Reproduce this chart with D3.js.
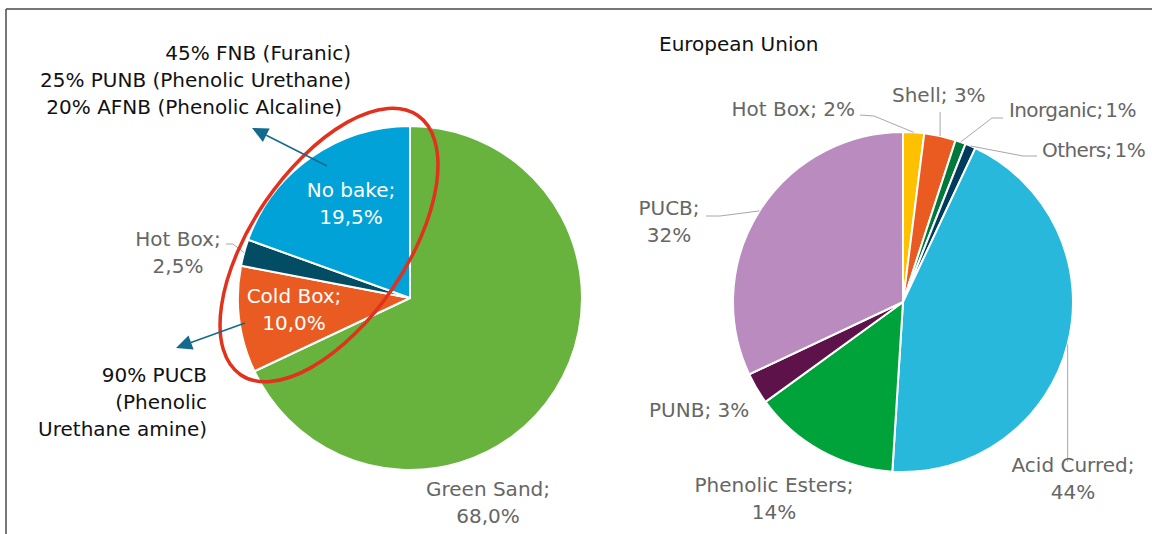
<!DOCTYPE html>
<html>
<head>
<meta charset="utf-8">
<script src="https://cdn.jsdelivr.net/npm/d3@7"></script>
<style>
  html, body { margin: 0; padding: 0; background: #fff; }
  svg { display: block; }
  text { font-family: "DejaVu Sans", sans-serif; font-size: 20px; }
</style>
</head>
<body>
<svg id="chart" width="1152" height="534"></svg>
<script>
// Core binder processes – world share
const worldCategories = ["Green Sand", "Cold Box", "Hot Box", "No bake"];
const worldValues = [68.0, 10.0, 2.5, 19.5];
const worldValueLabels = ["68,0%", "10,0%", "2,5%", "19,5%"];

// Core binder processes – European Union
const euTitle = "European Union";
const euCategories = ["Hot Box", "Shell", "Inorganic", "Others", "Acid Curred", "Phenolic Esters", "PUNB", "PUCB"];
const euValues = [2, 3, 1, 1, 44, 14, 3, 32];
const euValueLabels = ["2%", "3%", "1%", "1%", "44%", "14%", "3%", "32%"];

// No-bake and cold-box breakdown notes
const noBakeNotes = ["45% FNB (Furanic)", "25% PUNB (Phenolic Urethane)", "20% AFNB (Phenolic Alcaline)"];
const coldBoxNotes = ["90% PUCB", "(Phenolic", "Urethane amine)"];

const worldColors = ["#67b33e", "#ea5b21", "#024d64", "#00a2d8"];
const euColors = ["#ffc000", "#ea5b21", "#00793a", "#003b5e", "#27b8db", "#00a23a", "#5d124a", "#b98bbf"];

const svg = d3.select("#chart");
const GRAY = "#666666";
const LEADER = "#a8a8a8";
const LINE_H = 27;

// frame
svg.append("line").attr("x1", 6).attr("x2", 1152).attr("y1", 9).attr("y2", 9)
  .attr("stroke", "#4a4a4a").attr("stroke-width", 1.5);
svg.append("line").attr("x1", 6).attr("x2", 6).attr("y1", 9).attr("y2", 534)
  .attr("stroke", "#4a4a4a").attr("stroke-width", 1.5);

function drawPie(opts) {
  const { cx, cy, r, values, colors, labels } = opts;
  const pie = d3.pie().sort(null).value(d => d)(values);
  const arc = d3.arc().innerRadius(0).outerRadius(r);
  const g = svg.append("g").attr("transform", `translate(${cx},${cy})`);
  g.selectAll("path").data(pie).join("path")
    .attr("d", arc)
    .attr("fill", (d, i) => colors[i])
    .attr("stroke", "#fff")
    .attr("stroke-width", 2)
    .attr("stroke-linejoin", "round");

  const line = d3.line();
  pie.forEach((d, i) => {
    const lab = labels[i];
    const mid = (d.startAngle + d.endAngle) / 2;
    const edge = [cx + r * Math.sin(mid), cy - r * Math.cos(mid)];
    if (lab.leader) {
      const pts = lab.leader.map(p => [p[0] === null ? edge[0] : p[0], p[1]]);
      pts.push(edge);
      svg.append("path").attr("d", line(pts))
        .attr("fill", "none").attr("stroke", LEADER).attr("stroke-width", 1);
    }
    const t = svg.append("text")
      .attr("x", lab.x).attr("y", lab.y)
      .attr("text-anchor", lab.anchor)
      .attr("fill", lab.color);
    if (lab.tight) t.attr("word-spacing", "-3px").attr("letter-spacing", "-0.6px");
    lab.lines.forEach((s, k) => {
      t.append("tspan").attr("x", lab.x).attr("y", lab.y + k * LINE_H).text(s);
    });
  });
}

// world pie
const W = { cx: 410, cy: 298, r: 172 };
drawPie({
  ...W, values: worldValues, colors: worldColors,
  labels: [
    { x: 488, y: 496, anchor: "middle", color: GRAY, lines: [worldCategories[0] + ";", worldValueLabels[0]] },
    { x: 294, y: 303, anchor: "middle", color: "#fff", lines: [worldCategories[1] + ";", worldValueLabels[1]] },
    { x: 178, y: 246, anchor: "middle", color: GRAY, lines: [worldCategories[2] + ";", worldValueLabels[2]],
      leader: [[226, 244], [233, 244]] },
    { x: 351, y: 197, anchor: "middle", color: "#fff", lines: [worldCategories[3] + ";", worldValueLabels[3]] }
  ]
});

// EU pie
const E = { cx: 903, cy: 302, r: 170 };
drawPie({
  ...E, values: euValues, colors: euColors,
  labels: [
    { x: 855, y: 116, anchor: "end", color: GRAY, lines: [euCategories[0] + "; " + euValueLabels[0]],
      leader: [[860, 115], [874, 116]] },
    { x: 892, y: 102, anchor: "start", color: GRAY, lines: [euCategories[1] + "; " + euValueLabels[1]],
      leader: [[null, 112]] },
    { x: 1009, y: 117, anchor: "start", color: GRAY, tight: true, lines: [euCategories[2] + "; " + euValueLabels[2]],
      leader: [[1003, 118], [992, 118]] },
    { x: 1042, y: 157, anchor: "start", color: GRAY, tight: true, lines: [euCategories[3] + "; " + euValueLabels[3]],
      leader: [[1037, 156], [1023, 156]] },
    { x: 1073, y: 472, anchor: "middle", color: GRAY, lines: [euCategories[4] + ";", euValueLabels[4]],
      leader: [[null, 462]] },
    { x: 774, y: 492, anchor: "middle", color: GRAY, lines: [euCategories[5] + ";", euValueLabels[5]] },
    { x: 649, y: 417, anchor: "start", color: GRAY, lines: [euCategories[6] + "; " + euValueLabels[6]] },
    { x: 669, y: 215, anchor: "middle", color: GRAY, lines: [euCategories[7] + ";", euValueLabels[7]],
      leader: [[706, 216], [720, 216]] }
  ]
});

svg.append("text").attr("x", 659).attr("y", 51).attr("fill", "#111").text(euTitle);

// breakdown notes
const noteX = [351, 351, 342];
noBakeNotes.forEach((s, k) => {
  svg.append("text").attr("x", noteX[k]).attr("y", 60 + k * LINE_H)
    .attr("text-anchor", "end").attr("fill", "#111").text(s);
});
coldBoxNotes.forEach((s, k) => {
  svg.append("text").attr("x", 207).attr("y", 382 + k * LINE_H)
    .attr("text-anchor", "end").attr("fill", "#111").text(s);
});

// highlight ellipse around the core-making processes
svg.append("ellipse")
  .attr("transform", "translate(329,245) rotate(-55.7)")
  .attr("rx", 157).attr("ry", 77)
  .attr("fill", "none").attr("stroke", "#e2311d").attr("stroke-width", 3.5);

// arrows pointing to the notes
const ARROW = "#136a8c";
function arrow(x1, y1, x2, y2) {
  const ang = Math.atan2(y2 - y1, x2 - x1);
  const len = 16, hw = 7.5;
  const bx = x2 - len * Math.cos(ang), by = y2 - len * Math.sin(ang);
  svg.append("line").attr("x1", x1).attr("y1", y1).attr("x2", bx).attr("y2", by)
    .attr("stroke", ARROW).attr("stroke-width", 1.5);
  const px = -Math.sin(ang) * hw, py = Math.cos(ang) * hw;
  svg.append("path")
    .attr("d", `M${x2},${y2}L${bx + px},${by + py}L${bx - px},${by - py}Z`)
    .attr("fill", ARROW);
}
arrow(327, 166, 252, 128);
arrow(245, 323, 176, 348);
</script>
</body>
</html>
